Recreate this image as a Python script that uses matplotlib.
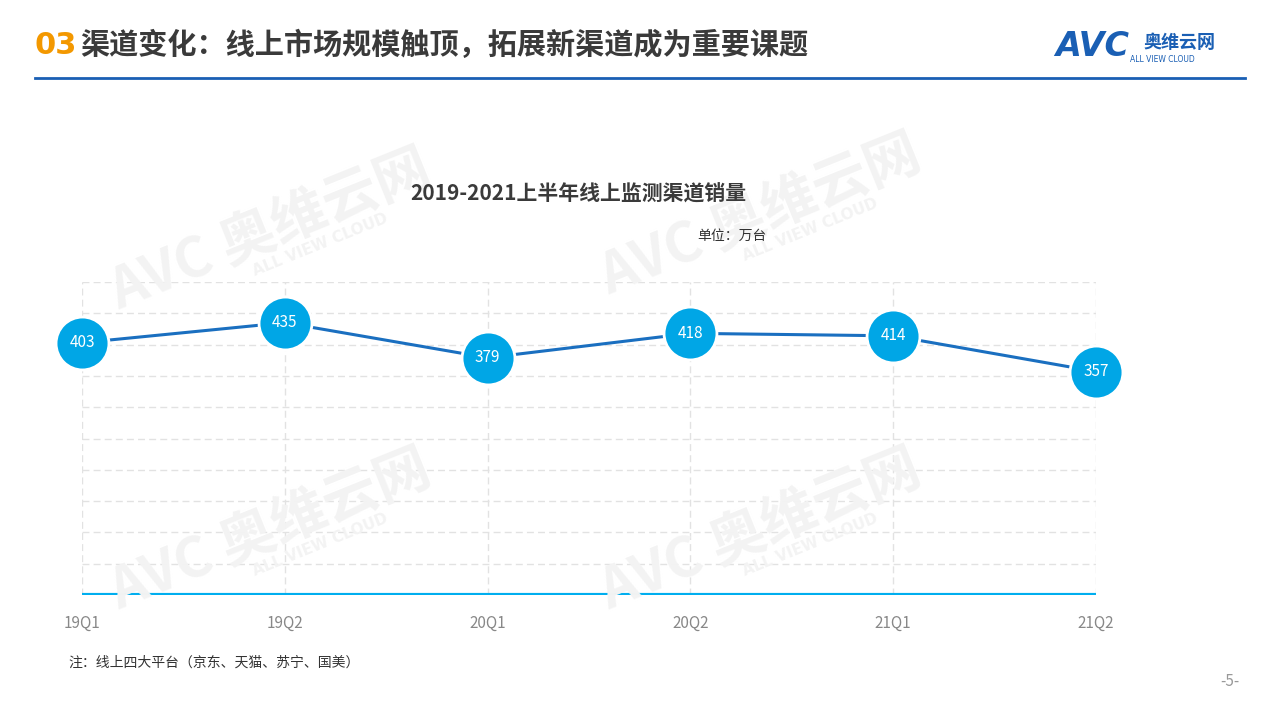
import matplotlib
matplotlib.use("Agg")
import matplotlib.pyplot as plt

plt.rcParams['font.family'] = ['Noto Sans CJK SC', 'DejaVu Sans']

categories = ["19Q1", "19Q2", "20Q1", "20Q2", "21Q1", "21Q2"]
values = [403, 435, 379, 418, 414, 357]

W, H = 1279, 719
fig = plt.figure(figsize=(W/100, H/100), dpi=100)
fig.patch.set_facecolor("white")

def fx(x): return x / W
def fy(y): return 1 - y / H

# Header
fig.text(fx(35), fy(45), "03", color="#F39800", fontsize=22, fontweight="bold", va="center", family=["DejaVu Sans"])
fig.text(fx(80), fy(45), "渠道变化：线上市场规模触顶，拓展新渠道成为重要课题", color="#3a3a3a",
         fontsize=21, fontweight="bold", va="center")
fig.text(fx(1055), fy(46), "AVC", color="#1a5fb4", fontsize=24, fontweight="bold", va="center",
         style="italic", family=["DejaVu Sans"])
fig.text(fx(1143), fy(43), "奥维云网", color="#1a5fb4", fontsize=13, fontweight="bold", va="center")
fig.text(fx(1130), fy(59), "ALL VIEW CLOUD", color="#1a5fb4", fontsize=5.5, va="center", family=["DejaVu Sans"])
fig.add_artist(plt.Line2D([fx(35), fx(1245)], [fy(78), fy(78)], color="#1a5fb4", lw=2))

# Watermarks
for (x, y) in [(270, 230), (760, 215), (270, 530), (760, 530)]:
    fig.text(fx(x), fy(y), "AVC 奥维云网", color="#f3f3f3", fontsize=40, fontweight="bold",
             rotation=22, ha="center", va="center", zorder=0)
    fig.text(fx(x + 50), fy(y + 15), "ALL VIEW CLOUD", color="#f3f3f3", fontsize=11, fontweight="bold",
             rotation=22, ha="center", va="center", zorder=0, family=["DejaVu Sans"])

fig.text(fx(578), fy(194), "2019-2021上半年线上监测渠道销量", color="#3a3a3a", fontsize=15,
         fontweight="bold", ha="center", va="center")
fig.text(fx(732), fy(236), "单位：万台", color="#333333", fontsize=10, ha="center", va="center")

ax = fig.add_axes([fx(82), fy(595), fx(1096) - fx(82), fy(282) - fy(595)])
ax.set_facecolor("none")
x = list(range(len(categories)))
ax.set_xlim(0, len(categories) - 1)
ax.set_ylim(0, 500)
for yv in range(50, 501, 50):
    ax.axhline(yv, color="#e2e2e2", lw=1, ls=(0, (5, 3)), zorder=1)
for xv in x:
    ax.axvline(xv, color="#e2e2e2", lw=1, ls=(0, (5, 3)), zorder=1)
ax.axhline(0, color="#00AEEF", lw=3, zorder=2)
ax.plot(x, values, color="#1a6fc0", lw=2.2, zorder=3, clip_on=False)
ax.scatter(x, values, s=1450, color="#00A6E6", edgecolor="white", linewidth=2, zorder=4, clip_on=False)
for xi, v in zip(x, values):
    ax.text(xi, v, str(v), color="white", fontsize=11, ha="center", va="center", zorder=5)
for s in ax.spines.values():
    s.set_visible(False)
ax.set_yticks([])
ax.set_xticks(x)
ax.set_xticklabels(categories, color="#888888", fontsize=11)
ax.tick_params(axis="x", length=0, pad=14)

fig.text(fx(68), fy(663), "注：线上四大平台（京东、天猫、苏宁、国美）", color="#333333", fontsize=10, va="center")
fig.text(fx(1230), fy(681), "-5-", color="#999999", fontsize=11, ha="center", va="center")

fig.savefig("out.png", dpi=100)
